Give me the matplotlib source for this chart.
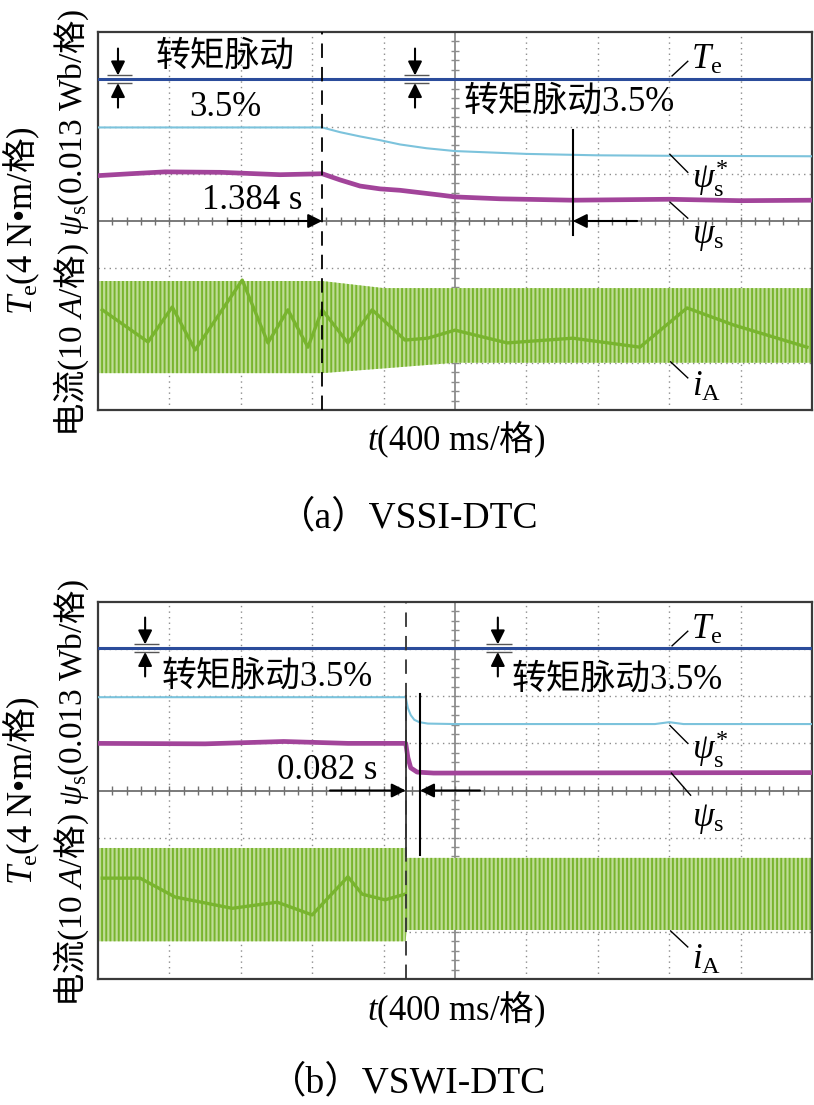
import matplotlib.pyplot as plt
import numpy as np

plt.rcParams['font.family'] = ['Liberation Serif', 'Noto Sans CJK SC']
plt.rcParams['mathtext.fontset'] = 'custom'
plt.rcParams['mathtext.rm'] = 'Liberation Serif'
plt.rcParams['mathtext.it'] = 'Liberation Serif:italic'
plt.rcParams['hatch.linewidth'] = 1.4

# ---- data (in oscilloscope divisions: x 0..10, y -4..4) ----
# panel (a) VSSI-DTC
step_a = 3.14
te_a_t = [0, 10]
te_a = [3.0, 3.0]
ref_a_t = [0, 3.14, 3.39, 3.67, 3.95, 4.23, 4.6, 5.0, 5.5, 6.0, 7.0, 8.0, 10.0]
ref_a = [1.98, 1.98, 1.88, 1.79, 1.71, 1.62, 1.54, 1.48, 1.45, 1.42, 1.39, 1.38, 1.37]
psi_a_t = [0, 0.45, 0.94, 1.72, 2.55, 3.14, 3.39, 3.67, 3.95, 4.23, 4.51, 4.79, 5.0, 5.63, 6.65, 8.0, 9.0, 10.0]
psi_a = [0.96, 1.0, 1.04, 1.03, 0.98, 1.0, 0.87, 0.74, 0.68, 0.65, 0.6, 0.55, 0.51, 0.47, 0.44, 0.46, 0.43, 0.44]
ia_a_t = [0, 3.14, 4.0, 5.0, 10.0]
ia_a_hi = [-1.27, -1.27, -1.42, -1.42, -1.42]
ia_a_lo = [-3.22, -3.22, -3.12, -3.0, -3.0]
ia_a_mid_t = [0.06, 0.70, 1.04, 1.36, 2.02, 2.38, 2.66, 2.94, 3.14, 3.5, 3.84, 4.3, 4.62, 5.0, 5.73, 6.65, 7.59, 8.25, 8.9, 9.93]
ia_a_mid = [-1.88, -2.56, -1.82, -2.73, -1.25, -2.58, -1.88, -2.67, -1.88, -2.58, -1.88, -2.52, -2.48, -2.31, -2.58, -2.48, -2.67, -1.84, -2.2, -2.67]

# panel (b) VSWI-DTC
step_b = 4.31
te_b_t = [0, 10]
te_b = [3.02, 3.02]
ref_b_t = [0, 4.31, 4.34, 4.38, 4.43, 4.5, 4.62, 5.0, 7.8, 8.0, 8.2, 10]
ref_b = [1.98, 1.98, 1.75, 1.6, 1.5, 1.45, 1.42, 1.41, 1.41, 1.45, 1.41, 1.41]
psi_b_t = [0, 1.5, 2.6, 3.5, 4.31, 4.34, 4.38, 4.47, 4.7, 10]
psi_b = [1.0, 0.99, 1.04, 1.0, 1.0, 0.7, 0.48, 0.39, 0.37, 0.38]
ia_b_t = [0, 4.31, 4.32, 10]
ia_b_hi = [-1.22, -1.22, -1.43, -1.43]
ia_b_lo = [-3.2, -3.2, -2.96, -2.96]
ia_b_mid_t = [0.06, 0.59, 1.08, 1.88, 2.51, 3.0, 3.5, 3.7, 4.02, 4.3]
ia_b_mid = [-1.86, -1.86, -2.26, -2.5, -2.37, -2.64, -1.83, -2.2, -2.32, -2.2]

te_color = '#2b4c9b'
ref_color = '#7cc3dc'
psi_color = '#a2449a'
ia_dark = '#78b42e'
ia_light = '#bfdd96'

W, H = 814, 1105
fig = plt.figure(figsize=(W / 100, H / 100), dpi=100)


def fpos(x, y):
    return x / W, 1 - y / H


def arrow(ax, x0, y0, x1, y1):
    ax.annotate('', xy=(x1, y1), xytext=(x0, y0),
                arrowprops=dict(arrowstyle='-|>', color='k', lw=1.5,
                                mutation_scale=21, shrinkA=0, shrinkB=0),
                zorder=8)


def ripple_mark(ax, x, y):
    arrow(ax, x, y + 0.65, x, y + 0.08)
    arrow(ax, x, y - 0.6, x, y - 0.08)
    ax.hlines([y + 0.08, y - 0.08], x - 0.16, x + 0.2, color='#555555', lw=1, zorder=8)


def panel(top_px, bot_px):
    l, b = fpos(98, bot_px)
    r, t = fpos(812, top_px)
    ax = fig.add_axes([l, b, r - l, t - b])
    ax.set_xlim(0, 10)
    ax.set_ylim(-4, 4)
    ax.set_xticks([])
    ax.set_yticks([])
    for s in ax.spines.values():
        s.set_color('#3a3a3a')
        s.set_linewidth(1.6)
    for k in range(1, 10):
        if k != 5:
            ax.axvline(k, color='#8c8c8c', lw=1, ls=(0, (1, 3)), zorder=1)
    for k in range(-3, 4):
        if k != 0:
            ax.axhline(k, color='#8c8c8c', lw=1, ls=(0, (1, 3)), zorder=1)
    ax.axvline(5, color='#8c8c8c', lw=1.3, zorder=1)
    ax.axhline(0, color='#707070', lw=1.3, zorder=1)
    ax.vlines(np.arange(0.2, 10, 0.2), -0.085, 0.085, color='#707070', lw=1, zorder=1)
    ax.hlines(np.arange(-3.8, 4, 0.2), 4.945, 5.055, color='#8c8c8c', lw=1, zorder=1)
    return ax


def traces(ax, te_t, te, ref_t, ref, psi_t, psi, ia_t, ia_hi, ia_lo, mid_t, mid):
    ax.fill_between(ia_t, ia_lo, ia_hi, facecolor=ia_light, edgecolor=ia_dark,
                    hatch='||||', lw=0, zorder=2)
    ax.plot(mid_t, mid, color=ia_dark, lw=2.4, zorder=3)
    ax.plot(te_t, te, color=te_color, lw=2.2, zorder=4)
    ax.plot(ref_t, ref, color=ref_color, lw=1.5, zorder=4)
    ax.plot(psi_t, psi, color=psi_color, lw=3.4, zorder=4)


def labels(ax, te_y, ref_y, psi_y, ia_y, psi_leader):
    ax.plot([8.04, 8.26], [3.07, 3.38], color='k', lw=1, zorder=8)
    ax.plot([8.01, 8.26], [ref_y + 0.5, ref_y + 0.12], color='k', lw=1, zorder=8)
    ax.plot(psi_leader[0], psi_leader[1], color='k', lw=1, zorder=8)
    ax.plot([8.02, 8.26], [-2.98, -3.32], color='k', lw=1, zorder=8)
    fs = 25
    ax.text(8.3, te_y, r'$T_{\rm e}$', fontsize=fs, va='center', ha='left')
    ax.text(8.32, ref_y, r'$\psi_{\rm s}^{*}$', fontsize=fs, va='center', ha='left')
    ax.text(8.32, psi_y, r'$\psi_{\rm s}$', fontsize=fs, va='center', ha='left')
    ax.text(8.32, ia_y, r'$i_{\rm A}$', fontsize=fs, va='center', ha='left')


def side_text(top_shift):
    cjk = ['Noto Sans CJK SC']
    x, y = fpos(22, 315 + top_shift)
    fig.text(x, y, r'$T_{\rm e}\mathrm{(4\ N•m/}$格$\mathrm{)}$', family=cjk,
             fontsize=25, rotation=90, rotation_mode='anchor', ha='left', va='center')
    x, y = fpos(71, 437 + top_shift)
    fig.text(x, y, '电流' + r'$\mathrm{(10\ }A\mathrm{/}$格$\mathrm{)}\ \psi_{\rm s}\mathrm{(0.013\ Wb/}$格$\mathrm{)}$',
             family=cjk, fontsize=24, rotation=90, rotation_mode='anchor',
             ha='left', va='center')
    x, y = fpos(456, 440 + top_shift)
    fig.text(x, y, r'$t\mathrm{(400\ ms/}$格$\mathrm{)}$', family=cjk,
             fontsize=25, ha='center', va='center')


# ---------- panel (a) ----------
ax = panel(32, 410)
traces(ax, te_a_t, te_a, ref_a_t, ref_a, psi_a_t, psi_a, ia_a_t, ia_a_hi, ia_a_lo,
       ia_a_mid_t, ia_a_mid)
ax.axvline(step_a, color='k', lw=1.3, ls=(0, (8, 5)), zorder=6)
ripple_mark(ax, 0.28, 3.0)
ripple_mark(ax, 4.44, 3.0)
ax.text(1.78, 3.47, '转矩脉动', fontsize=25, ha='center', va='center')
ax.text(1.78, 2.41, '3.5%', fontsize=25, ha='center', va='center')
ax.text(6.6, 2.52, '转矩脉动3.5%', fontsize=25, ha='center', va='center')
ax.text(2.16, 0.44, '1.384 s', fontsize=25, ha='center', va='center')
arrow(ax, 1.82, 0, step_a, 0)
arrow(ax, 7.55, 0, 6.65, 0)
ax.plot([6.65, 6.65], [1.93, -0.3], color='k', lw=1.5, zorder=8)
labels(ax, 3.39, 0.91, -0.32, -3.53, ([8.01, 8.26], [0.40, 0.06]))
side_text(0)
x, y = fpos(408, 518)
fig.text(x, y, '（a）VSSI-DTC', fontsize=27, ha='center', va='center')

# ---------- panel (b) ----------
ax = panel(602, 979)
traces(ax, te_b_t, te_b, ref_b_t, ref_b, psi_b_t, psi_b, ia_b_t, ia_b_hi, ia_b_lo,
       ia_b_mid_t, ia_b_mid)
ax.axvline(step_b, color='#333333', lw=1.3, ls=(0, (8, 5)), zorder=6)
ax.plot([step_b, step_b], [2.0, -1.4], color='#333333', lw=1.3, zorder=6)
ripple_mark(ax, 0.66, 3.02)
ripple_mark(ax, 5.6, 3.02)
ax.text(2.37, 2.41, '转矩脉动3.5%', fontsize=25, ha='center', va='center')
ax.text(7.27, 2.35, '转矩脉动3.5%', fontsize=25, ha='center', va='center')
ax.text(3.21, 0.43, '0.082 s', fontsize=25, ha='center', va='center')
arrow(ax, 3.25, 0, step_b, 0)
arrow(ax, 5.35, 0, 4.51, 0)
ax.plot([4.51, 4.51], [2.05, -1.37], color='k', lw=1.5, zorder=8)
labels(ax, 3.4, 0.88, -0.6, -3.6, ([8.03, 8.3], [0.37, -0.1]))
side_text(570)
x, y = fpos(408, 1083)
fig.text(x, y, '（b）VSWI-DTC', fontsize=27, ha='center', va='center')

fig.savefig('out.png', dpi=100)
